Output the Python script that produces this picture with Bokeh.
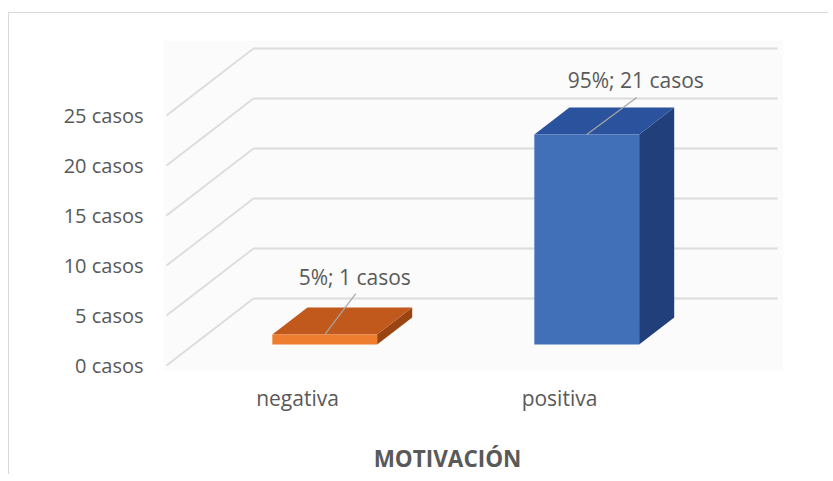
from bokeh.plotting import figure
from bokeh.models import Range1d, FixedTicker, PrintfTickFormatter
from bokeh.embed import file_html
from bokeh.resources import INLINE
from bokeh.core.properties import value

# ---- data ----
categories = ["negativa", "positiva"]
casos = [1, 21]
porcentajes = [5, 95]
y_ticks = [0, 5, 10, 15, 20, 25]
axis_title = "MOTIVACIÓN"

front_colors = ["#EE7D2F", "#4170B9"]
top_colors = ["#C2591C", "#2B529C"]
side_colors = ["#9A4412", "#213F7B"]

# ---- layout constants (pixels per data unit, 3D projection) ----
UX = 262.0          # px per category slot
UY = 10.0           # px per case
DXF = 87.0 / UX     # full depth offset, x (data units)
DYF = 67.0 / UY     # full depth offset, y (data units)
D0, D1 = 0.313, 0.716   # bar depth fractions (front, back)
BW = 0.40               # bar width (category units)
label_dx = [30, 49]     # label offsets from bar front-top (px)
label_dy = [58, 55]
leader_dy = [41, 37]
CAT_LABEL_DY = 32       # px below floor front edge
TITLE_DX, TITLE_DY = 19, 93

X0, X1 = -3 / UX, 617 / UX          # plot-area bounds (data units)
Y0, Y1 = -5 / UY, 325 / UY

TXT = "#595959"
FONT = "Open Sans"

p = figure(width=820, height=462, output_backend="svg", toolbar_location=None,
           x_range=Range1d(X0, X1), y_range=Range1d(-110 / UY, Y1),
           min_border_left=154, min_border_right=46, min_border_top=27, min_border_bottom=0)
p.styles = {"border-top": "1px solid #d9d9d9", "border-left": "1px solid #d9d9d9",
            "margin-left": "8px", "margin-top": "12px"}
p.background_fill_color = "white"
p.border_fill_color = "white"
p.outline_line_color = None
p.xgrid.visible = False
p.ygrid.visible = False
p.xaxis.visible = False

n = len(categories)

# faint plot-area background
p.quad(left=[X0], right=[X1], bottom=[Y0], top=[Y1], fill_color="#fbfbfb", line_color=None)

# gridlines: back wall + left side wall diagonals
gx0, gy0, gx1, gy1 = [], [], [], []
for t in y_ticks:
    gx0 += [DXF, 0.0]
    gy0 += [t + DYF, t]
    gx1 += [n + DXF, DXF]
    gy1 += [t + DYF, t + DYF]
p.segment(gx0, gy0, gx1, gy1, line_color="#dcdcdc", line_width=1.8)

# 3D bars
for i, v in enumerate(casos):
    c = i + 0.5
    fl = c - BW / 2 + D0 * DXF
    fr = fl + BW
    fb = D0 * DYF
    ft = v + fb
    bl = c - BW / 2 + D1 * DXF
    br = bl + BW
    bb = D1 * DYF
    bt = v + bb
    p.patch([fr, fr, br, br], [fb, ft, bt, bb], fill_color=side_colors[i], line_color=None)
    p.patch([fl, bl, br, fr], [ft, bt, bt, ft], fill_color=top_colors[i], line_color=None)
    p.quad(left=fl, right=fr, bottom=fb, top=ft, fill_color=front_colors[i], line_color=None)
    # data label with leader line
    ax = (fl + fr) / 2
    p.segment([ax], [ft], [ax + (label_dx[i] + 1) / UX], [ft + leader_dy[i] / UY],
              line_color="#a6a6a6", line_width=1.2)
    p.text([ax], [ft], text=[f"{porcentajes[i]}%; {v} casos"], x_offset=label_dx[i],
           y_offset=-label_dy[i], text_align="center", text_baseline="middle",
           text_font=value(FONT), text_font_size="21px", text_color=TXT)

# category labels (front edge of the floor)
p.text([i + 0.5 for i in range(n)], [0] * n, text=categories, y_offset=CAT_LABEL_DY,
       text_align="center", text_baseline="middle", text_font=value(FONT),
       text_font_size="21px", text_color=TXT)

# axis title
p.text([n / 2], [0], text=[axis_title], x_offset=TITLE_DX, y_offset=TITLE_DY,
       text_align="center", text_baseline="middle", text_font=value(FONT),
       text_font_size="22.5px", text_font_style="bold", text_color=TXT)

# y axis
p.yaxis.ticker = FixedTicker(ticks=y_ticks)
p.yaxis.formatter = PrintfTickFormatter(format="%d casos")
ya = p.yaxis[0]
ya.axis_line_color = None
ya.major_tick_line_color = None
ya.minor_tick_line_color = None
ya.major_tick_out = 0
ya.major_tick_in = 0
ya.major_label_text_font = FONT
ya.major_label_text_color = TXT
ya.major_label_text_font_size = "20px"
ya.major_label_standoff = 20

open("out.html", "w").write(file_html(p, INLINE))
